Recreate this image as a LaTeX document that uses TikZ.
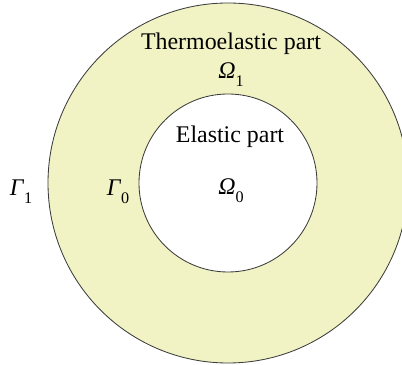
\documentclass[tikz,border=0pt]{standalone}
\usepackage{fontspec}
\setmainfont{Liberation Serif}
\usepackage{tikz}
\usetikzlibrary{positioning}
\definecolor{ringfill}{RGB}{241,243,197}
\definecolor{edgegray}{RGB}{60,60,60}
\newcommand{\domlabel}[2]{\textit{#1}\raisebox{-5pt}{\fontsize{11.5}{12}\selectfont #2}}
\tikzset{lbl/.style={font=\fontsize{17}{20}\selectfont, inner sep=0pt, anchor=base}}
\tikzset{bound/.style={draw=edgegray, line width=0.6pt}}

\begin{document}
\begin{tikzpicture}[x=0.025cm,y=-0.025cm]
  \useasboundingbox (0,0) rectangle (402,365);
  \clip (0,0) rectangle (402,365);
  \coordinate (c) at (228,183);
  % thermoelastic ring and elastic core
  \fill[ringfill, even odd rule] (c) circle[radius=180] (c) circle[radius=89];
  \draw[bound] (c) circle[radius=180];
  \draw[bound] (c) circle[radius=89];
  % labels
  \node[lbl] (thermo) at (231,50) {Thermoelastic part};
  \node[lbl] (omega1) at (231,79) {\domlabel{Ω}{1}};
  \node[lbl] (elastic) at (230,143) {Elastic part};
  \node[lbl] (omega0) at (231,195) {\domlabel{Ω}{0}};
  \node[lbl] (gamma0) at (118,196) {\domlabel{Γ}{0}};
  \node[lbl] (gamma1) at (21,196) {\domlabel{Γ}{1}};
\end{tikzpicture}
\end{document}
